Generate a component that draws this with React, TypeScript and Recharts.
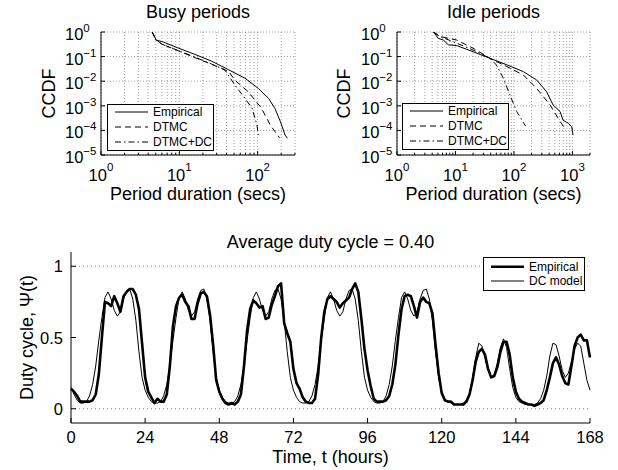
import React from 'react';
import { LineChart, Line, XAxis, YAxis, CartesianGrid, ReferenceLine } from 'recharts';

const FONT = '"Liberation Sans", Arial, Helvetica, sans-serif';

// ---------- Busy periods CCDF ----------
const busyEmpiricalDur = [4.5, 4.9, 5.0, 6.0, 9.8, 15.8, 25.7, 42.7, 69, 102, 138, 166, 195, 224, 240];
const busyEmpiricalCcdf = [1.0, 0.6, 0.47, 0.41, 0.22, 0.123, 0.066, 0.029, 0.0132, 0.0051, 0.002, 0.00079, 0.00023, 0.000065, 0.000048];
const busyDtmcDur = [4.5, 5.0, 6.0, 15.8, 25.7, 42.7, 51, 76, 112, 145, 190];
const busyDtmcCcdf = [1.0, 0.5, 0.32, 0.091, 0.049, 0.025, 0.0112, 0.0037, 0.00079, 0.000166, 0.00005];
const busyDtmcDcDur = [4.5, 5.0, 6.0, 15.8, 25.7, 38, 51, 69, 85, 98, 102];
const busyDtmcDcCcdf = [1.0, 0.5, 0.32, 0.095, 0.05, 0.029, 0.0071, 0.002, 0.00079, 0.000166, 0.000065];

// ---------- Idle periods CCDF ----------
const idleEmpiricalDur = [4.2, 5.1, 6.2, 7.6, 10.5, 20, 39, 76, 145, 245, 363, 468, 617, 692, 851, 977, 1023];
const idleEmpiricalCcdf = [1.0, 0.55, 0.47, 0.3, 0.28, 0.158, 0.085, 0.046, 0.0245, 0.0112, 0.0037, 0.00107, 0.00058, 0.00026, 0.000195, 0.000141, 0.000065];
const idleDtmcDur = [4.2, 5.5, 10.5, 20, 39, 76, 145, 245, 417, 617, 741];
const idleDtmcCcdf = [1.0, 0.65, 0.47, 0.22, 0.085, 0.039, 0.0178, 0.0051, 0.00107, 0.00023, 0.00012];
const idleDtmcDcDur = [4.2, 5.5, 10.5, 20, 39, 50, 66, 85, 112, 158];
const idleDtmcDcCcdf = [1.0, 0.65, 0.35, 0.186, 0.085, 0.046, 0.0132, 0.0028, 0.00058, 0.00015];

// ---------- Ticks ----------
const busyXTicks = [1, 2, 3, 4, 5, 6, 7, 8, 9, 10, 20, 30, 40, 50, 60, 70, 80, 90, 100, 200, 300];
const idleXTicks = [1, 2, 3, 4, 5, 6, 7, 8, 9, 10, 20, 30, 40, 50, 60, 70, 80, 90, 100, 200, 300, 400, 500, 600, 700, 800, 900, 1000, 2000];
const ccdfYTicks = [0.00001, 0.0001, 0.001, 0.01, 0.1, 1];
const hourTicks = [0, 24, 48, 72, 96, 120, 144, 168];
const dutyTicks = [0, 0.5, 1];

// ---------- Duty cycle (hourly, t = 0..168) ----------
const empiricalDuty = [
  0.14, 0.12, 0.09, 0.05, 0.05, 0.05, 0.05, 0.06, 0.10, 0.24,
  0.50, 0.75, 0.74, 0.72, 0.79, 0.74, 0.68, 0.79, 0.82, 0.84,
  0.84, 0.80, 0.70, 0.46, 0.22, 0.12, 0.08, 0.04, 0.07, 0.05,
  0.05, 0.10, 0.30, 0.58, 0.72, 0.78, 0.80, 0.75, 0.72, 0.63,
  0.63, 0.74, 0.81, 0.82, 0.79, 0.66, 0.45, 0.20, 0.12, 0.07,
  0.04, 0.03, 0.04, 0.03, 0.05, 0.10, 0.30, 0.55, 0.70, 0.76,
  0.74, 0.71, 0.72, 0.63, 0.64, 0.73, 0.79, 0.86, 0.88, 0.60,
  0.53, 0.47, 0.28, 0.18, 0.14, 0.08, 0.05, 0.04, 0.04, 0.07,
  0.24, 0.50, 0.68, 0.77, 0.79, 0.77, 0.75, 0.71, 0.74, 0.76,
  0.78, 0.84, 0.88, 0.82, 0.63, 0.42, 0.27, 0.16, 0.07, 0.05,
  0.05, 0.05, 0.06, 0.09, 0.17, 0.31, 0.52, 0.70, 0.79, 0.80,
  0.79, 0.72, 0.64, 0.75, 0.78, 0.75, 0.74, 0.67, 0.45, 0.25,
  0.11, 0.06, 0.05, 0.05, 0.03, 0.03, 0.03, 0.03, 0.05, 0.10,
  0.20, 0.33, 0.40, 0.42, 0.38, 0.28, 0.22, 0.23, 0.29, 0.40,
  0.47, 0.47, 0.38, 0.22, 0.12, 0.07, 0.05, 0.04, 0.03, 0.03,
  0.02, 0.03, 0.04, 0.06, 0.13, 0.22, 0.32, 0.36, 0.31, 0.23,
  0.18, 0.17, 0.30, 0.44, 0.50, 0.52, 0.48, 0.48, 0.36,
];
const dcModelDuty = [
  0.15, 0.10, 0.06, 0.04, 0.04, 0.05, 0.09, 0.17, 0.30, 0.48, 0.64, 0.78, 0.82, 0.77, 0.69, 0.65, 0.68, 0.77, 0.83, 0.84, 0.77, 0.62, 0.40, 0.22,
  0.13, 0.08, 0.05, 0.04, 0.04, 0.05, 0.09, 0.17, 0.30, 0.48, 0.64, 0.78, 0.82, 0.77, 0.69, 0.65, 0.68, 0.77, 0.83, 0.84, 0.77, 0.62, 0.40, 0.22,
  0.13, 0.08, 0.05, 0.04, 0.04, 0.05, 0.09, 0.17, 0.30, 0.48, 0.64, 0.78, 0.82, 0.77, 0.69, 0.65, 0.68, 0.77, 0.83, 0.84, 0.77, 0.62, 0.40, 0.22,
  0.13, 0.08, 0.05, 0.04, 0.04, 0.05, 0.09, 0.17, 0.30, 0.48, 0.64, 0.78, 0.82, 0.77, 0.69, 0.65, 0.68, 0.77, 0.83, 0.84, 0.77, 0.62, 0.40, 0.22,
  0.13, 0.08, 0.05, 0.04, 0.04, 0.05, 0.09, 0.17, 0.30, 0.48, 0.64, 0.78, 0.82, 0.77, 0.69, 0.65, 0.68, 0.77, 0.83, 0.84, 0.77, 0.62, 0.40, 0.22,
  0.12, 0.07, 0.05, 0.04, 0.03, 0.03, 0.03, 0.04, 0.06, 0.11, 0.22, 0.36, 0.46, 0.44, 0.36, 0.27, 0.22, 0.24, 0.32, 0.43, 0.49, 0.43, 0.28, 0.15,
  0.08, 0.05, 0.04, 0.03, 0.03, 0.03, 0.03, 0.04, 0.07, 0.13, 0.23, 0.37, 0.46, 0.45, 0.37, 0.27, 0.22, 0.25, 0.33, 0.42, 0.46, 0.44, 0.32, 0.20,
  0.13,
];

const zipXY = (xs: number[], ys: number[]) => xs.map((x, i) => ({ x, y: ys[i] }));
const dutyData = empiricalDuty.map((v, i) => ({ t: i, empirical: v, dcModel: dcModelDuty[i] }));

const fmtExp = (e: number) => String(e).replace('-', '\u2212');
const isMajor = (v: number) => {
  const lg = Math.log10(v);
  return Math.abs(lg - Math.round(lg)) < 1e-6;
};

const logTickBottom = (props: any) => {
  const { x, y, payload } = props;
  const v = payload.value;
  const major = isMajor(v);
  return (
    <g>
      <line x1={x} y1={y} x2={x} y2={y - (major ? 4 : 2)} stroke="#000" strokeWidth={1} />
      {major && (
        <text x={x} y={y + 26} textAnchor="middle" fontFamily={FONT} fill="#000">
          <tspan fontSize={16.5}>10</tspan>
          <tspan fontSize={11.5} dy={-10}>{fmtExp(Math.round(Math.log10(v)))}</tspan>
        </text>
      )}
    </g>
  );
};
const logTickTop = (props: any) => {
  const { x, y, payload } = props;
  const major = isMajor(payload.value);
  return <line x1={x} y1={y} x2={x} y2={y + (major ? 4 : 2)} stroke="#000" strokeWidth={1} />;
};
const logTickLeft = (props: any) => {
  const { x, y, payload } = props;
  const e = Math.round(Math.log10(payload.value));
  return (
    <g>
      <line x1={x} y1={y} x2={x + 4} y2={y} stroke="#000" strokeWidth={1} />
      <text x={x - 36} y={y + 8} textAnchor="start" fontFamily={FONT} fill="#000">
        <tspan fontSize={16.5}>10</tspan>
        <tspan fontSize={11.5} dy={-8}>{fmtExp(e)}</tspan>
      </text>
    </g>
  );
};
const tickRightInward = (props: any) => {
  const { x, y } = props;
  return <line x1={x} y1={y} x2={x - 4} y2={y} stroke="#000" strokeWidth={1} />;
};
const linTickBottom = (props: any) => {
  const { x, y, payload } = props;
  return (
    <g>
      <line x1={x} y1={y} x2={x} y2={y - 5} stroke="#000" strokeWidth={1} />
      <text x={x} y={y + 19.5} textAnchor="middle" fontFamily={FONT} fontSize={16.5} fill="#000">
        {String(payload.value)}
      </text>
    </g>
  );
};
const linTickTop = (props: any) => {
  const { x, y } = props;
  return <line x1={x} y1={y} x2={x} y2={y + 5} stroke="#000" strokeWidth={1} />;
};
const linTickLeft = (props: any) => {
  const { x, y, payload } = props;
  return (
    <g>
      <line x1={x} y1={y} x2={x + 5} y2={y} stroke="#000" strokeWidth={1} />
      <text x={x - 8} y={y + 6} textAnchor="end" fontFamily={FONT} fontSize={16.5} fill="#000">
        {String(payload.value)}
      </text>
    </g>
  );
};

const axisLine = { stroke: '#000', strokeWidth: 1 };
const DASH = '6 4';
const DASHDOT = '6 3 1.5 3';

type CcdfProps = {
  left: number;
  yAxisWidth: number;
  marginRight: number;
  xMax: number;
  xTicks: number[];
  emp: { x: number; y: number }[];
  dtmc: { x: number; y: number }[];
  dtmcDc: { x: number; y: number }[];
};

const CcdfChart = ({ left, yAxisWidth, marginRight, xMax, xTicks, emp, dtmc, dtmcDc }: CcdfProps) => (
  <div style={{ position: 'absolute', left, top: 0 }}>
    <LineChart width={309} height={230} margin={{ top: 32, right: marginRight, bottom: 0, left: 0 }}>
      <CartesianGrid stroke="#8a8a8a" strokeDasharray="1 2" strokeWidth={0.8} />
      <XAxis
        xAxisId={0}
        dataKey="x"
        type="number"
        scale="log"
        domain={[1, xMax]}
        ticks={xTicks}
        interval={0}
        allowDataOverflow
        height={75}
        tickSize={0}
        tickMargin={0}
        tickLine={false}
        axisLine={axisLine}
        tick={logTickBottom}
      />
      <XAxis
        xAxisId="top"
        orientation="top"
        type="number"
        scale="log"
        domain={[1, xMax]}
        ticks={xTicks}
        interval={0}
        allowDataOverflow
        height={0}
        tickSize={0}
        tickMargin={0}
        tickLine={false}
        axisLine={axisLine}
        tick={logTickTop}
      />
      <YAxis
        yAxisId={0}
        type="number"
        scale="log"
        domain={[0.00001, 1]}
        ticks={ccdfYTicks}
        interval={0}
        allowDataOverflow
        width={yAxisWidth}
        tickSize={0}
        tickMargin={0}
        tickLine={false}
        axisLine={axisLine}
        tick={logTickLeft}
      />
      <YAxis
        yAxisId="right"
        orientation="right"
        type="number"
        scale="log"
        domain={[0.00001, 1]}
        ticks={ccdfYTicks}
        interval={0}
        allowDataOverflow
        width={0}
        tickSize={0}
        tickMargin={0}
        tickLine={false}
        axisLine={axisLine}
        tick={tickRightInward}
      />
      <Line data={dtmc} dataKey="y" stroke="#000" strokeWidth={1} strokeDasharray={DASH} dot={false} isAnimationActive={false} />
      <Line data={dtmcDc} dataKey="y" stroke="#000" strokeWidth={1} strokeDasharray={DASHDOT} dot={false} isAnimationActive={false} />
      <Line data={emp} dataKey="y" stroke="#000" strokeWidth={1} dot={false} isAnimationActive={false} />
    </LineChart>
  </div>
);

const CcdfLegend = ({ x, y }: { x: number; y: number }) => {
  const items = [
    { label: 'Empirical', dash: undefined },
    { label: 'DTMC', dash: DASH },
    { label: 'DTMC+DC', dash: DASHDOT },
  ];
  return (
    <g>
      <rect x={x + 0.5} y={y + 0.5} width={106} height={46} fill="#fff" stroke="#000" strokeWidth={1} />
      {items.map((it, i) => (
        <g key={it.label}>
          <line x1={x + 8} x2={x + 41} y1={y + 8 + i * 15} y2={y + 8 + i * 15} stroke="#000" strokeWidth={1} strokeDasharray={it.dash} />
          <text x={x + 46} y={y + 12.3 + i * 15} fontSize={12} fontFamily={FONT} fill="#000">{it.label}</text>
        </g>
      ))}
    </g>
  );
};

export default function App() {
  return (
    <div style={{ position: 'absolute', left: 0, top: 0, width: 618, height: 470, background: '#fff', fontFamily: FONT }}>
      <CcdfChart
        left={0}
        yAxisWidth={101}
        marginRight={14}
        xMax={300}
        xTicks={busyXTicks}
        emp={zipXY(busyEmpiricalDur, busyEmpiricalCcdf)}
        dtmc={zipXY(busyDtmcDur, busyDtmcCcdf)}
        dtmcDc={zipXY(busyDtmcDcDur, busyDtmcDcCcdf)}
      />
      <CcdfChart
        left={309}
        yAxisWidth={88}
        marginRight={28}
        xMax={2000}
        xTicks={idleXTicks}
        emp={zipXY(idleEmpiricalDur, idleEmpiricalCcdf)}
        dtmc={zipXY(idleDtmcDur, idleDtmcCcdf)}
        dtmcDc={zipXY(idleDtmcDcDur, idleDtmcDcCcdf)}
      />
      <div style={{ position: 'absolute', left: 0, top: 230 }}>
        <LineChart width={618} height={240} data={dutyData} margin={{ top: 22, right: 28, bottom: 0, left: 0 }}>
          <XAxis
            xAxisId={0}
            dataKey="t"
            type="number"
            domain={[0, 168]}
            ticks={hourTicks}
            interval={0}
            height={47}
            tickSize={0}
            tickMargin={0}
            tickLine={false}
            axisLine={axisLine}
            tick={linTickBottom}
          />
          <XAxis
            xAxisId="top"
            orientation="top"
            type="number"
            domain={[0, 168]}
            ticks={hourTicks}
            interval={0}
            height={0}
            tickSize={0}
            tickMargin={0}
            tickLine={false}
            axisLine={axisLine}
            tick={linTickTop}
          />
          <YAxis
            yAxisId={0}
            type="number"
            domain={[-0.1, 1.1]}
            ticks={dutyTicks}
            interval={0}
            width={71}
            tickSize={0}
            tickMargin={0}
            tickLine={false}
            axisLine={axisLine}
            tick={linTickLeft}
          />
          <YAxis
            yAxisId="right"
            orientation="right"
            type="number"
            domain={[-0.1, 1.1]}
            ticks={dutyTicks}
            interval={0}
            width={0}
            tickSize={0}
            tickMargin={0}
            tickLine={false}
            axisLine={axisLine}
            tick={tickRightInward}
          />
          <ReferenceLine y={1} stroke="#8a8a8a" strokeDasharray="1 3" />
          <ReferenceLine y={0} stroke="#8a8a8a" strokeDasharray="1 3" />
          <Line dataKey="dcModel" stroke="#000" strokeWidth={1} dot={false} isAnimationActive={false} />
          <Line dataKey="empirical" stroke="#000" strokeWidth={2.6} strokeLinejoin="round" dot={false} isAnimationActive={false} />
        </LineChart>
      </div>
      <svg width={618} height={470} style={{ position: 'absolute', left: 0, top: 0, pointerEvents: 'none' }}>
        <g fontFamily={FONT} fontSize={18} fill="#000">
          <text x={198} y={17.5} textAnchor="middle">Busy periods</text>
          <text x={493.5} y={17.5} textAnchor="middle">Idle periods</text>
          <text x={198} y={200} textAnchor="middle">Period duration (secs)</text>
          <text x={493.5} y={200} textAnchor="middle">Period duration (secs)</text>
          <text transform="translate(55,93.5) rotate(-90)" textAnchor="middle">CCDF</text>
          <text transform="translate(350,93.5) rotate(-90)" textAnchor="middle">CCDF</text>
          <text x={330.5} y={248} textAnchor="middle">Average duty cycle = 0.40</text>
          <text x={330.5} y={463} textAnchor="middle">Time, t (hours)</text>
          <text transform="translate(33,337.5) rotate(-90)" textAnchor="middle">Duty cycle, Ψ(t)</text>
        </g>
        <CcdfLegend x={107} y={104} />
        <CcdfLegend x={402} y={103} />
        <g>
          <rect x={483.5} y={257.5} width={101} height={33} fill="#fff" stroke="#000" strokeWidth={1} />
          <line x1={491} x2={524} y1={266.7} y2={266.7} stroke="#000" strokeWidth={2.6} />
          <text x={529} y={271} fontSize={12} fontFamily={FONT} fill="#000">Empirical</text>
          <line x1={491} x2={524} y1={281} y2={281} stroke="#000" strokeWidth={1} />
          <text x={529} y={285.3} fontSize={12} fontFamily={FONT} fill="#000">DC model</text>
        </g>
      </svg>
    </div>
  );
}
